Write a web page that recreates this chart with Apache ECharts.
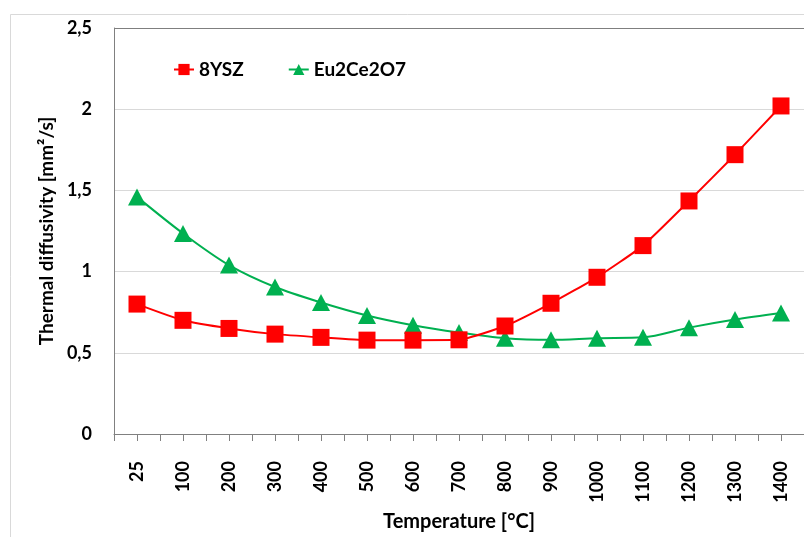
<!DOCTYPE html>
<html>
<head>
<meta charset="utf-8">
<script src="https://cdn.jsdelivr.net/npm/echarts@6/dist/echarts.min.js"></script>
<style>
  html, body { margin: 0; padding: 0; background: #fff; }
  #chart { width: 804px; height: 537px; }
</style>
</head>
<body>
<div id="chart"></div>
<script>
// temperature steps (°C)
const temperatures = ['25', '100', '200', '300', '400', '500', '600', '700', '800', '900', '1000', '1100', '1200', '1300', '1400'];

// thermal diffusivity, mm2/s
const ysz = [0.80, 0.70, 0.65, 0.615, 0.595, 0.578, 0.578, 0.58, 0.665, 0.805, 0.965, 1.16, 1.435, 1.72, 2.02];
const eu2ce2o7 = [1.46, 1.235, 1.04, 0.905, 0.81, 0.73, 0.67, 0.625, 0.59, 0.58, 0.59, 0.595, 0.655, 0.705, 0.745];

const yTicks = [0, 0.5, 1, 1.5, 2, 2.5];

const font = 'Lato, "Open Sans", sans-serif';

const chart = echarts.init(document.getElementById('chart'), null, { renderer: 'canvas' });

chart.setOption({
  animation: false,
  backgroundColor: '#fff',
  textStyle: { fontFamily: font },
  graphic: [
    {
      type: 'rect',
      left: 8,
      top: 12,
      shape: { width: 820, height: 560 },
      style: { fill: 'none', stroke: '#d9d9d9', lineWidth: 1 },
      silent: true,
      z: -1,
    },
  ],
  grid: { left: 114, right: 0, top: 28, bottom: 102, containLabel: false },
  legend: {
    left: 168,
    top: 55,
    itemWidth: 20,
    itemHeight: 14,
    itemGap: 44,
    textStyle: { fontSize: 19, fontWeight: 'bold', color: '#000', fontFamily: font },
    data: ['8YSZ', 'Eu2Ce2O7'],
  },
  xAxis: [
    {
      type: 'category',
      data: temperatures,
      boundaryGap: true,
      name: 'Temperature [°C]',
      nameLocation: 'middle',
      nameGap: 78,
      nameTextStyle: { fontSize: 20, fontWeight: 'bold', color: '#000' },
      axisLine: { lineStyle: { color: '#808080', width: 1 } },
      axisTick: { show: true, length: 7, lineStyle: { color: '#808080' } },
      axisLabel: {
        rotate: 90,
        margin: 27,
        fontSize: 18,
        fontWeight: 'bold',
        color: '#000',
        interval: 0,
      },
      splitLine: { show: false },
    },
    {
      type: 'category',
      data: temperatures,
      position: 'bottom',
      boundaryGap: true,
      axisLine: { show: false },
      axisTick: { show: true, alignWithLabel: true, length: 7, lineStyle: { color: '#808080' } },
      axisLabel: { show: false },
      splitLine: { show: false },
    },
  ],
  yAxis: {
    type: 'value',
    min: 0,
    max: 2.5,
    interval: 0.5,
    name: 'Thermal diffusivity [mm²/s]',
    nameLocation: 'middle',
    nameGap: 56,
    nameTextStyle: { fontSize: 19, fontWeight: 'bold', color: '#000' },
    axisLine: { show: true, lineStyle: { color: '#808080', width: 1 } },
    axisTick: { show: false },
    axisLabel: {
      margin: 22,
      fontSize: 18,
      fontWeight: 'bold',
      color: '#000',
      formatter: (v) => (yTicks.includes(v) ? String(v).replace('.', ',') : ''),
    },
    splitLine: {
      lineStyle: {
        color: ['#d9d9d9', '#d9d9d9', '#d9d9d9', '#d9d9d9', '#d9d9d9', '#7f7f7f'],
        width: 1,
      },
    },
  },
  series: [
    {
      name: '8YSZ',
      type: 'line',
      data: ysz,
      symbol: 'rect',
      symbolSize: 17,
      smooth: 0.15,
      lineStyle: { color: '#ff0000', width: 2 },
      itemStyle: { color: '#ff0000' },
      z: 3,
    },
    {
      name: 'Eu2Ce2O7',
      type: 'line',
      data: eu2ce2o7,
      symbol: 'triangle',
      symbolSize: [18, 17],
      smooth: 0.3,
      lineStyle: { color: '#00b050', width: 2 },
      itemStyle: { color: '#00b050' },
      z: 2,
    },
  ],
});
</script>
</body>
</html>
